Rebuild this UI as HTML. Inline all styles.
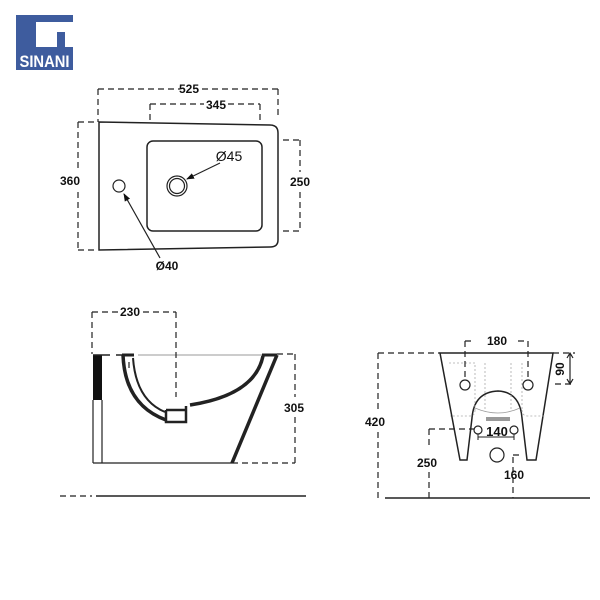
<!DOCTYPE html>
<html><head><style>body{margin:0;background:#fff}svg{display:block}text{font-family:"Liberation Sans",sans-serif;font-weight:bold;font-size:12px;fill:#111}</style></head><body>
<svg width="600" height="600" viewBox="0 0 600 600" xmlns="http://www.w3.org/2000/svg">
<defs><marker id="ah" markerWidth="8" markerHeight="8" refX="7" refY="4" orient="auto" markerUnits="userSpaceOnUse"><path d="M0 1L8 4L0 7Z" fill="#111"/></marker></defs>
<rect width="600" height="600" fill="#fff"/>
<rect x="16" y="15" width="57" height="55" fill="#3e5c9e"/>
<path d="M36 22H73V32H57V47H36Z" fill="#fff"/>
<rect x="65" y="32" width="8" height="15" fill="#fff"/>
<text x="44.5" y="67" text-anchor="middle" style="font-size:17px;fill:#fff" textLength="50" lengthAdjust="spacingAndGlyphs">SINANI</text>
<g fill="none" stroke="#222">
<path d="M99 122L270 125Q278 125 278 133V240Q278 247 270 247L99 250Z" stroke-width="1.5"/>
<rect x="147" y="141" width="115" height="90" rx="6" stroke-width="1.5"/>
<circle cx="177" cy="186" r="10" stroke-width="1.2"/><circle cx="177" cy="186" r="7.5" stroke-width="1.2"/>
<circle cx="119" cy="186" r="6" stroke-width="1.2"/>
<g stroke-dasharray="6,4" stroke-width="1.2">
<path d="M98 89H180M202 89H278M98 89V122M278 89V118"/>
<path d="M150 104H204M228 104H260M150 104V122M260 104V124"/>
<path d="M78 122H98M78 250H98M78 122V172M78 192V250"/>
<path d="M283 140H300M283 231H300M300 140V172M300 192V231"/>
</g>
<path d="M220 163L187 179" stroke-width="1.2" marker-end="url(#ah)"/>
<path d="M160 258L124 194" stroke-width="1.2" marker-end="url(#ah)"/>
<rect x="93" y="355" width="9" height="45" fill="#111" stroke="none"/>
<path d="M93 400V463M102 400V463M93 463H232" stroke-width="1.2"/>
<path d="M102 355H110M93 355H102M116 355H122" stroke-width="1.5"/>
<path d="M138 355H262" stroke="#999" stroke-width="1"/>
<path d="M277 355L232 463" stroke-width="3.5"/>
<path d="M262 355H277" stroke-width="3"/>
<path d="M263 356Q255 395 190 405" stroke-width="3.5"/>
<path d="M123 355Q125 405 166 420" stroke-width="3.5"/>
<path d="M133 358Q136 400 165 412" stroke-width="2"/>
<path d="M122 355H134" stroke-width="3"/>
<path d="M166 410V422H186V406M166 410H186" stroke-width="2.5"/>
<g stroke-dasharray="6,4" stroke-width="1.2">
<path d="M92 312H118M143 312H176M92 312V354M176 312V397M232 463H295M277 354H295M295 354V397M295 417V463M60 496H92M129 362V368"/>
</g>
<path d="M96 496H306" stroke-width="1.5"/>
<path d="M440 353H553L536 460H527L522 418Q520 392 498 391Q474 392 472 418L467 460H460Z" stroke-width="1.5"/>
<path d="M449 363H475V410M485 363V410M522 363V410M511 363V410M475 410Q475 416 470 416H450M522 410Q522 416 528 416H545" stroke="#aaa" stroke-dasharray="2,2" stroke-width="0.8"/>
<path d="M475 408Q498 418 520 408" stroke="#999" stroke-width="0.8"/>
<rect x="486" y="417" width="24" height="4" fill="#999" stroke="none"/>
<circle cx="465" cy="385" r="5" stroke-width="1.2"/><circle cx="528" cy="385" r="5" stroke-width="1.2"/>
<circle cx="478" cy="430" r="4" stroke-width="1.2"/><circle cx="514" cy="430" r="4" stroke-width="1.2"/>
<path d="M478 434V440M514 434V440M478 437H514" stroke-width="1"/>
<circle cx="497" cy="455" r="7" stroke-width="1.2"/>
<g stroke-dasharray="6,4" stroke-width="1.2">
<path d="M465 341H475M518 341H528M465 341V380M528 341V380"/>
<path d="M378 353H440M553 353H575M555 384H575M378 353V412M378 432V498"/>
<path d="M429 429H474M429 429V448M429 472V498M513 455H520M513 457V498"/>
</g>
<path d="M570 353V384M567 358L570 353L573 358M567 379L570 384L573 379" stroke-width="1.2"/>
<path d="M385 498H590" stroke-width="1.5"/>
</g>
<text x="189" y="93" text-anchor="middle">525</text>
<text x="216" y="109" text-anchor="middle">345</text>
<text x="70" y="185" text-anchor="middle">360</text>
<text x="300" y="186" text-anchor="middle">250</text>
<text x="229" y="161" text-anchor="middle" style="font-weight:normal;font-size:14px">Ø45</text>
<text x="167" y="270" text-anchor="middle">Ø40</text>
<text x="130" y="316" text-anchor="middle">230</text>
<text x="294" y="412" text-anchor="middle">305</text>
<text x="497" y="345" text-anchor="middle">180</text>
<text x="375" y="426" text-anchor="middle">420</text>
<text x="427" y="467" text-anchor="middle">250</text>
<text x="514" y="479" text-anchor="middle">160</text>
<text x="497" y="436" text-anchor="middle" style="font-size:13px">140</text>
<text x="0" y="0" text-anchor="middle" transform="translate(564 369) rotate(-90)">90</text>
</svg>
</body></html>
